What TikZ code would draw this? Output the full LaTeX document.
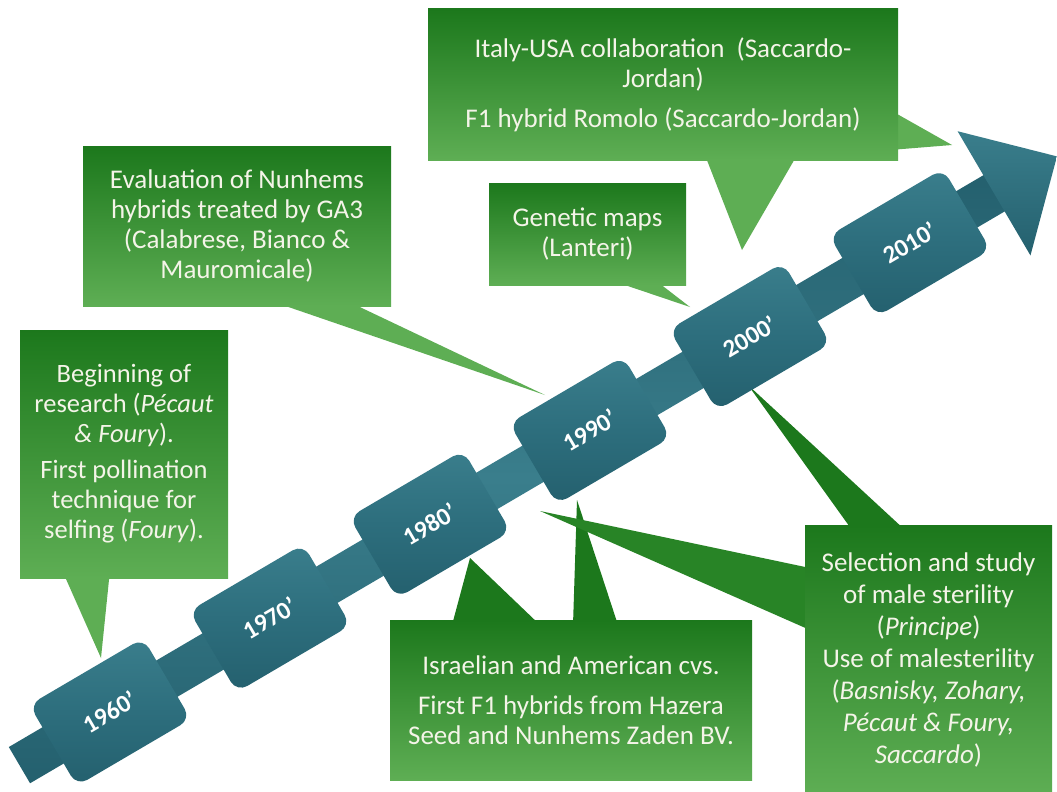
\documentclass[tikz,border=0pt]{standalone}
\usepackage{fontspec}
\setmainfont{Carlito}
\usetikzlibrary{calc}
\definecolor{gtop}{RGB}{28,120,28}
\definecolor{gbot}{RGB}{94,174,84}
\definecolor{gmid}{RGB}{40,132,38}
\definecolor{tealA}{RGB}{58,126,140}
\definecolor{tealB}{RGB}{45,110,125}
\definecolor{tealC}{RGB}{36,96,110}
\definecolor{txt}{RGB}{244,244,232}
\tikzset{
  callout/.style={draw=none, top color=gtop, bottom color=gbot, text=txt,
    align=center, inner sep=0pt, font=\fontsize{27}{30}\selectfont},
  yearbox/.style={rounded corners=12pt, top color=tealA, bottom color=tealC,
    middle color=tealB,
    minimum width=132pt, minimum height=94pt, text=white, inner sep=0pt,
    font=\fontsize{25}{26}\selectfont\bfseries},
  ptrlight/.style={fill=gbot},
  ptrdark/.style={fill=gtop},
  ptrmid/.style={fill=gmid},
}
\begin{document}
\begin{tikzpicture}[x=1pt,y=-1pt]
\useasboundingbox[fill=white] (0,0) rectangle (1057,792);
\clip (0,0) rectangle (1057,792);

% pointer tips
\coordinate (tItalyA) at (742,250);
\coordinate (tItalyB) at (952,145);
\coordinate (tGen) at (690,307);
\coordinate (tEval) at (545,395);
\coordinate (tBeg) at (101,658);
\coordinate (tIsrA) at (470,558);
\coordinate (tIsrB) at (577,500);
\coordinate (tSelA) at (748,385);
\coordinate (tSelB) at (540,511);

% pointers
\fill[ptrlight] (703,150) -- (tItalyA) -- (800,150) -- cycle;
\fill[ptrlight] (890,110) -- (tItalyB) -- (890,150) -- cycle;
\fill[ptrlight] (610,280) -- (tGen) -- (655,280) -- cycle;
\fill[ptrlight] (268,300) -- (tEval) -- (345,300) -- cycle;
\fill[ptrlight] (62,570) -- (tBeg) -- (110,570) -- cycle;
\fill[ptrdark] (452,625) -- (tIsrA) -- (540,625) -- cycle;
\fill[ptrdark] (573,625) -- (tIsrB) -- (618,625) -- cycle;
\fill[ptrdark] (852,530) -- (tSelA) -- (905,530) -- cycle;
\fill[ptrmid] (810,568) -- (tSelB) -- (810,630) -- cycle;

% timeline
\begin{scope}[shift={(110,712)}, rotate=30.4, transform shape]
  \shade[top color=tealC, bottom color=tealC, middle color=tealA] (-105,-21) rectangle (1030,21);
  \shade[top color=tealA, bottom color=tealC] (1025,-72) -- (1098,0) -- (1025,72) -- cycle;
  \foreach \i/\yr in {0/1960,1/1970,2/1980,3/1990,4/2000,5/2010}
    \node[yearbox] (y\yr) at (185.5*\i,0) {\yr’};
\end{scope}

% callout boxes
\node[callout, minimum width=470pt, minimum height=151pt] (italy) at (663,84.5)
  {Italy-USA collaboration\ \ (Saccardo-\\Jordan)\\[10pt]F1 hybrid Romolo (Saccardo-Jordan)};
\node[callout, minimum width=197pt, minimum height=102pt] (genetic) at (587.5,234)
  {Genetic maps\\(Lanteri)};
\node[callout, minimum width=308pt, minimum height=160pt] (eval) at (237,226)
  {Evaluation of Nunhems\\hybrids treated by GA3\\(Calabrese, Bianco \&\\Mauromicale)};
\node[callout, minimum width=208pt, minimum height=248pt, font=\fontsize{26.5}{30}\selectfont] (begin) at (124,454)
  {Beginning of\\research (\textit{Pécaut}\\\textit{\& Foury}).\\[6pt]First pollination\\technique for\\selfing (\textit{Foury}).};
\node[callout, minimum width=362pt, minimum height=160pt] (israel) at (571,700)
  {Israelian and American cvs.\\[10pt]First F1 hybrids from Hazera\\Seed and Nunhems Zaden BV.};
\node[callout, minimum width=247pt, minimum height=270pt, font=\fontsize{27}{32}\selectfont] (select) at (928.5,660)
  {Selection and study\\of male sterility\\(\textit{Principe})\\Use of malesterility\\(\textit{Basnisky, Zohary,}\\\textit{Pécaut \& Foury,}\\\textit{Saccardo})};
\end{tikzpicture}
\end{document}
